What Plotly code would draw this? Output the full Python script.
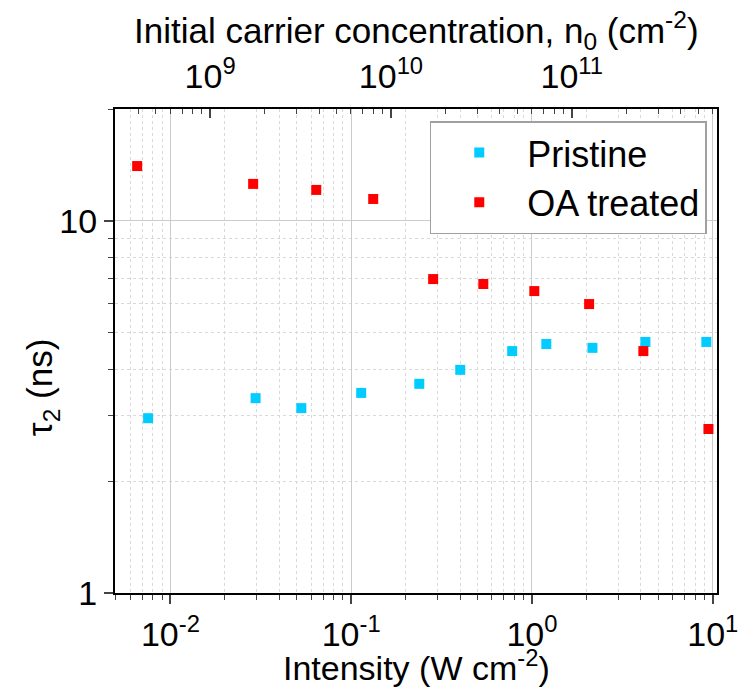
import numpy as np
import plotly.graph_objects as go

# Data
pristine_I = [0.00753, 0.0296, 0.0530, 0.1136, 0.238, 0.401, 0.777, 1.20, 2.16, 4.24, 9.21]
pristine_tau = [2.95, 3.34, 3.14, 3.45, 3.65, 3.98, 4.47, 4.67, 4.56, 4.73, 4.73]
oa_I = [0.00655, 0.0287, 0.0641, 0.1324, 0.284, 0.538, 1.03, 2.07, 4.13, 9.46]
oa_tau = [14.05, 12.58, 12.12, 11.46, 6.98, 6.77, 6.48, 5.98, 4.47, 2.76]

x_ticks = [0.01, 0.1, 1, 10]
x_ticktext = ["10<sup>-2</sup>", "10<sup>-1</sup>", "10<sup>0</sup>", "10<sup>1</sup>"]
y_ticks = [1, 10]
y_ticktext = ["1", "10"]
top_ticks = [1e9, 1e10, 1e11]
top_ticktext = ["10<sup>9</sup>", "10<sup>10</sup>", "10<sup>11</sup>"]

x_title = "Intensity (W cm<sup>-2</sup>)"
y_title = "τ<sub>2</sub> (ns)"
top_title = "Initial carrier concentration, n<sub>0</sub> (cm<sup>-2</sup>)"

x_range = [np.log10(0.00494), np.log10(10.55)]
y_range = [0, np.log10(20)]
shift = 10.78  # log10(n0 / I)

FONT = "Liberation Sans, Arial, sans-serif"

def minors(dec_lo, dec_hi):
    return [m * 10.0 ** d for d in range(dec_lo, dec_hi + 1) for m in range(2, 10)]

fig = go.Figure()
fig.add_trace(go.Scatter(x=pristine_I, y=pristine_tau, mode="markers", name="Pristine",
                         marker=dict(symbol="square", size=10, color="#00CCFF")))
fig.add_trace(go.Scatter(x=oa_I, y=oa_tau, mode="markers", name="OA treated",
                         marker=dict(symbol="square", size=10, color="#FF0000")))

grid_c = "#cccccc"
minor_c = "#d9d9d9"
tickfont = dict(family=FONT, size=34, color="black")
fig.update_layout(
    width=739, height=690,
    margin=dict(l=115, r=22, t=109, b=97, autoexpand=False),
    paper_bgcolor="white", plot_bgcolor="white",
    font=dict(family=FONT, size=28, color="black"),
    showlegend=True,
    legend=dict(x=0.983, y=0.975, xanchor="right", yanchor="top",
                bgcolor="white", bordercolor="#a0a0a0", borderwidth=1.5,
                font=dict(family=FONT, size=36), itemwidth=86, tracegroupgap=0),
    xaxis=dict(type="log", range=x_range, tickmode="array", tickvals=x_ticks,
               ticktext=x_ticktext, ticks="outside", ticklen=9, tickwidth=1.5,
               tickfont=tickfont, ticklabeloverflow="allow", ticklabelstandoff=1,
               automargin=False,
               showline=True, linecolor="black", linewidth=2,
               showgrid=True, gridcolor=grid_c, gridwidth=1,
               minor=dict(tickmode="array", tickvals=minors(-3, 1), ticks="outside",
                          ticklen=5, tickwidth=1.2, showgrid=True, gridcolor=minor_c,
                          griddash="dot", gridwidth=1),
               zeroline=False),
    yaxis=dict(type="log", range=y_range, tickmode="array", tickvals=y_ticks,
               ticktext=y_ticktext, ticks="outside", ticklen=9, tickwidth=1.5,
               tickfont=tickfont, automargin=False,
               showline=True, linecolor="black", linewidth=2, mirror=True,
               showgrid=True, gridcolor=grid_c, gridwidth=1,
               minor=dict(tickmode="array", tickvals=minors(0, 1), ticks="outside",
                          ticklen=5, tickwidth=1.2, showgrid=True, gridcolor=minor_c,
                          griddash="dot", gridwidth=1),
               zeroline=False),
    xaxis2=dict(type="log", overlaying="x", side="top", anchor="y",
                range=[x_range[0] + shift, x_range[1] + shift],
                tickmode="array", tickvals=top_ticks, ticktext=top_ticktext,
                ticks="inside", ticklen=9, tickwidth=1.5,
                tickfont=tickfont, ticklabeloverflow="allow", ticklabelstandoff=5,
                automargin=False,
                showline=True, linecolor="black", linewidth=2,
                showgrid=False,
                minor=dict(tickmode="array", tickvals=minors(8, 12), ticks="inside",
                           ticklen=5, tickwidth=1.2, showgrid=False),
                zeroline=False),
)
# invisible trace to activate top axis
fig.add_trace(go.Scatter(x=[1e10], y=[5], xaxis="x2", mode="markers",
                         marker=dict(opacity=0), showlegend=False, hoverinfo="skip"))

# axis titles as annotations (precise placement)
fig.add_annotation(text=x_title, xref="paper", yref="paper", x=0.5, y=-0.1488,
                   xanchor="center", yanchor="middle", showarrow=False,
                   font=dict(family=FONT, size=34))
fig.add_annotation(text=top_title, xref="paper", yref="paper", x=0.5, y=1.1632,
                   xanchor="center", yanchor="middle", showarrow=False,
                   font=dict(family=FONT, size=35))
fig.add_annotation(text=y_title, xref="paper", yref="paper", x=-0.121, y=0.4236,
                   xanchor="center", yanchor="middle", showarrow=False, textangle=-90,
                   font=dict(family=FONT, size=35))

fig.write_html("out.html")
